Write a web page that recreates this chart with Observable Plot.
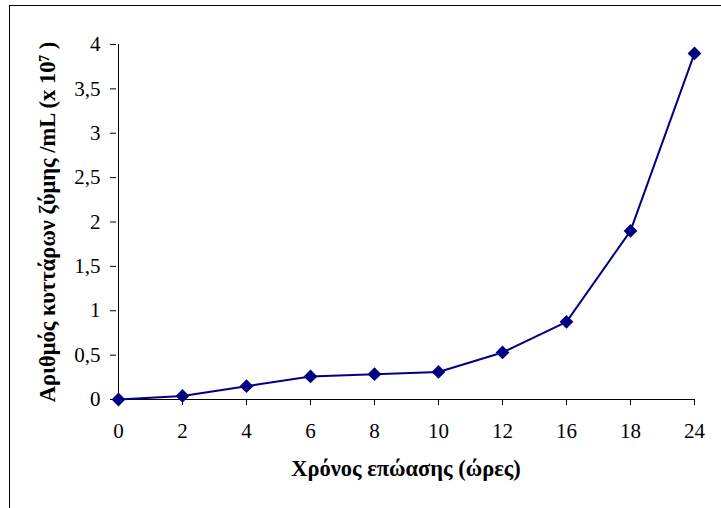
<!DOCTYPE html>
<html>
<head>
<meta charset="utf-8">
<script src="https://cdn.jsdelivr.net/npm/d3@7"></script>
<script src="https://cdn.jsdelivr.net/npm/@observablehq/plot@0.6"></script>
<style>
  html, body { margin: 0; padding: 0; background: #fff; }
  #wrap { position: relative; width: 721px; height: 508px; overflow: hidden; }
  #border { position: absolute; left: 9px; top: 5px; right: -5px; bottom: -5px;
            border-top: 1.5px solid #000; border-left: 1.5px solid #000; pointer-events: none; }
  #chart { position: absolute; left: 0; top: 0; }
</style>
</head>
<body>
<div id="wrap"><div id="chart"></div><div id="border"></div></div>
<script>
const hours = ["0", "2", "4", "6", "8", "10", "12", "16", "18", "24"];
const cells = [0, 0.04, 0.15, 0.26, 0.285, 0.31, 0.53, 0.875, 1.9, 3.9];
const yTicks = [0, 0.5, 1, 1.5, 2, 2.5, 3, 3.5, 4];
const xTitle = "Χρόνος επώασης (ώρες)";
const yTitle = "Αριθμός κυττάρων ζύμης /mL (x 10⁷ )";

const data = hours.map((h, i) => ({hour: h, value: cells[i]}));
const fmt = v => String(v).replace(".", ",");

const plot = Plot.plot({
  width: 721,
  height: 508,
  marginLeft: 116,
  marginRight: 26,
  marginTop: 44,
  marginBottom: 109,
  style: {fontFamily: "'Liberation Serif', 'Times New Roman', serif", fontSize: "21px", color: "#000", background: "transparent"},
  x: {type: "point", domain: hours, padding: 0, label: null},
  y: {domain: [0, 4], label: null},
  marks: [
    Plot.axisY({ticks: yTicks, tickFormat: fmt, tickSize: 6, tickPadding: 10, fontSize: 21}),
    Plot.axisX({tickSize: 6, tickPadding: 18, fontSize: 21}),
    Plot.ruleY([0]),
    Plot.ruleX([hours[0]], {y1: 0, y2: 4}),
    Plot.line(data, {x: "hour", y: "value", stroke: "#000080", strokeWidth: 2}),
    Plot.dot(data, {x: "hour", y: "value", symbol: "diamond2", r: 6.2, fill: "#000080", stroke: "none"}),
    Plot.text([xTitle], {frameAnchor: "bottom", dy: 69, fontWeight: "bold", fontSize: 22.5, textAnchor: "middle", lineAnchor: "middle"}),
    Plot.text([yTitle], {frameAnchor: "left", dx: -69, rotate: -90, fontWeight: "bold", fontSize: 22.5, textAnchor: "middle", lineAnchor: "middle"})
  ]
});
document.getElementById("chart").appendChild(plot);
</script>
</body>
</html>
